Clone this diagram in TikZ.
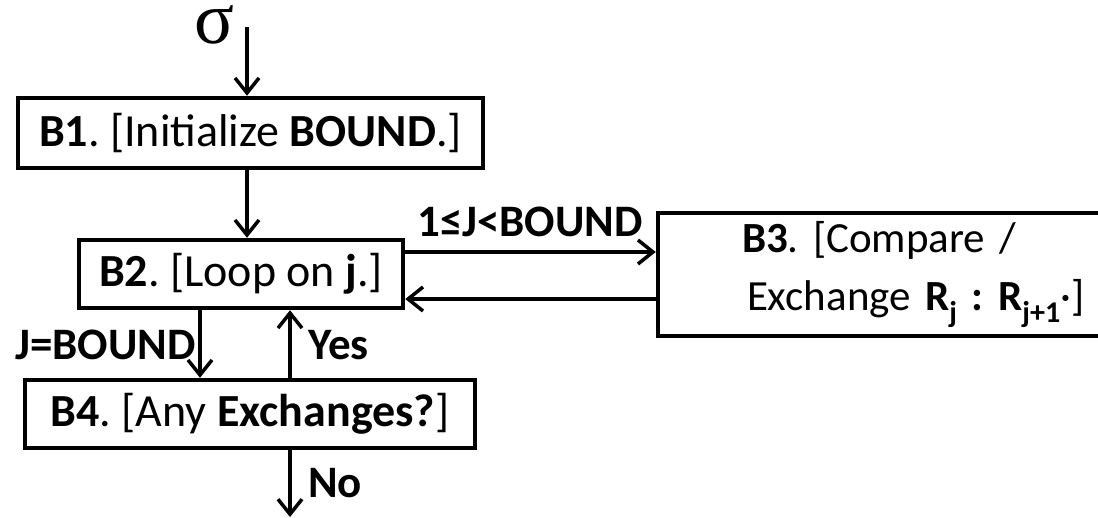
\documentclass[tikz,border=0pt]{standalone}
\usepackage{fontspec}
\setmainfont{Carlito}
\newfontfamily\sigmafont{Liberation Serif}
\usetikzlibrary{arrows.meta}
\begin{document}
\frenchspacing
\begin{tikzpicture}[x=1pt,y=-1pt,
  box/.style={draw, line width=4.5pt, rectangle, inner sep=0pt, font=\fontsize{46}{52}\selectfont},
  conn/.style={line width=3.5pt, -{Straight Barb[length=15pt,width=24pt,line width=3.5pt]}},
  lbl/.style={inner sep=0pt, font=\fontsize{45}{50}\selectfont\bfseries}]
\useasboundingbox (0,0) rectangle (1098,517);
\node[box, minimum width=465, minimum height=70] (B1) at (250.5,133) {\textbf{B1}. [Initialize \textbf{BOUND}.]};
\node[box, minimum width=324, minimum height=68] (B2) at (241,274) {\textbf{B2}. [Loop on \textbf{j}.]};
\node[box, minimum width=568, minimum height=123, text width=400pt, inner xsep=84pt, align=left,
      font=\fontsize{43}{58}\selectfont] (B3) at (942,274.5)
  {\textbf{B3}. [Compare /\\\hspace*{5pt}Exchange \textbf{R\textsubscript{j} : R\textsubscript{j+1}}·]};
\node[box, minimum width=450, minimum height=68] (B4) at (250,414) {\textbf{B4}. [Any \textbf{Exchanges?}]};
\node[inner sep=0pt, anchor=base, text height=30pt, text depth=0pt, font=\fontsize{74}{74}\sigmafont] (sig) at (214,43) {σ};
\coordinate (top) at (247,27);
\coordinate (bot) at (290,517);
\draw[conn] (top) -- (B1.north -| top);
\draw[conn] (B1.south -| top) -- (B2.north -| top);
\draw[conn] (B2.east |- 0,252) -- (B3.west |- 0,252);
\draw[conn] (B3.west |- 0,299) -- (B2.east |- 0,299);
\draw[conn] (B2.south -| 200,0) -- (B4.north -| 200,0);
\draw[conn] (B4.north -| bot) -- (B2.south -| bot);
\draw[conn] (B4.south -| bot) -- (bot);
\node[lbl, anchor=west] (l1) at (417,222) {1≤J<BOUND};
\node[lbl, anchor=east] (l2) at (196,345) {J=BOUND};
\node[lbl, anchor=west] (l3) at (308,345) {Yes};
\node[lbl, anchor=west] (l4) at (308,483) {No};
\end{tikzpicture}
\end{document}
